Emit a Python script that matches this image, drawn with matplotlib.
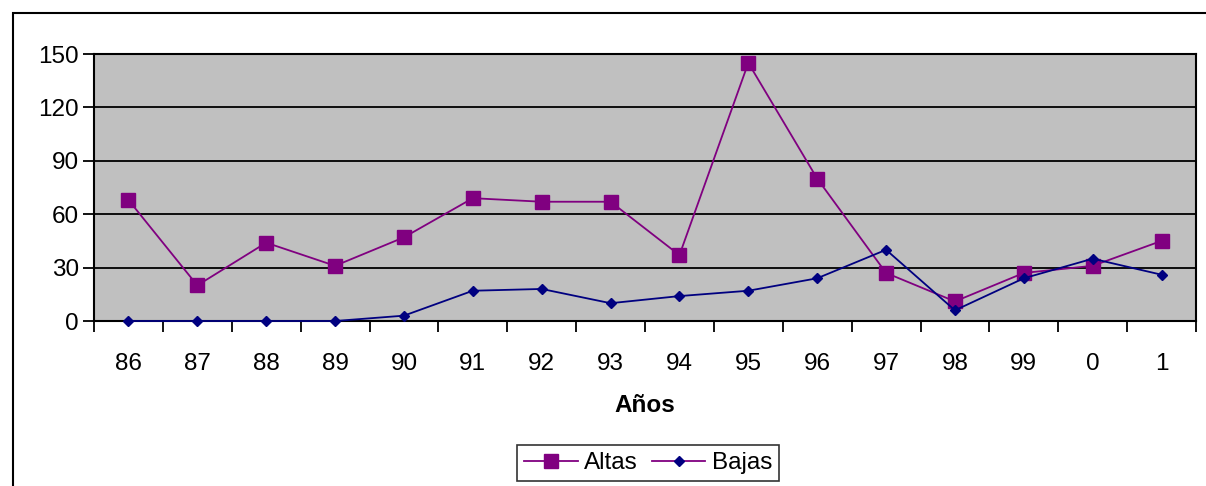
import matplotlib.pyplot as plt
from matplotlib.lines import Line2D
from matplotlib.patches import Rectangle
import numpy as np

plt.rcParams['font.family'] = ['Liberation Sans', 'DejaVu Sans']

#datos
anios = ["86", "87", "88", "89", "90", "91", "92", "93", "94", "95", "96", "97", "98", "99", "0", "1"]
altas = [68, 20, 44, 31, 47, 69, 67, 67, 37, 145, 80, 27, 11, 27, 31, 45]
bajas = [0, 0, 0, 0, 3, 17, 18, 10, 14, 17, 24, 40, 6, 24, 35, 26]

morado = "#800080"
azul = "#000080"
fs = 17.5

fig = plt.figure(figsize=(12.06, 4.86), dpi=100)
fig.patches.append(Rectangle((13/1206, -0.1), 1.2, 1 - 13/486 + 0.1, transform=fig.transFigure,
                             fill=False, edgecolor="black", linewidth=1.5))

ax = fig.add_axes([94/1206, 1 - 321/486, (1196 - 94)/1206, (321 - 54)/486])
ax.set_facecolor("#C0C0C0")

x = np.arange(len(anios))
ax.plot(x, altas, "-s", color=morado, markersize=10, linewidth=1.3, label="Altas", clip_on=False, zorder=4)
ax.plot(x, bajas, "-D", color=azul, markersize=5, linewidth=1.3, label="Bajas", clip_on=False, zorder=5)

ax.set_xlim(-0.5, len(anios) - 0.5)
ax.set_ylim(0, 150)
ax.set_yticks(np.arange(0, 151, 30))
ax.yaxis.grid(True, color="black", linewidth=1.3)
ax.set_axisbelow(True)

#ticks entre categorias
ax.set_xticks(np.arange(-0.5, len(anios), 1))
ax.set_xticklabels([])
ax.set_xticks(x, minor=True)
ax.set_xticklabels(anios, minor=True)
ax.tick_params(axis="x", which="minor", length=0, pad=23, labelsize=fs)
ax.tick_params(axis="x", which="major", length=8, width=1.3, direction="out")
ax.tick_params(axis="y", length=8, width=1.3, labelsize=fs, pad=3)

for s in ax.spines.values():
    s.set_linewidth(1.5)
    s.set_color("black")

ax.set_xlabel("Años", fontsize=fs, fontweight="bold", labelpad=14)

handles = [Line2D([], [], color=morado, marker="s", markersize=10, linewidth=1.3),
           Line2D([], [], color=morado, marker="D", markersize=5, markerfacecolor=azul,
                  markeredgecolor=azul, linewidth=1.3)]
leg = fig.legend(handles, ["Altas", "Bajas"], loc="center", bbox_to_anchor=(648/1206, 1 - 463/486),
                 ncol=2, fontsize=fs, frameon=True, fancybox=False, edgecolor="black",
                 handlelength=2.2, columnspacing=0.6, handletextpad=0.25, borderpad=0.3)
leg.get_frame().set_linewidth(1.2)

plt.savefig("out.png", dpi=100)
